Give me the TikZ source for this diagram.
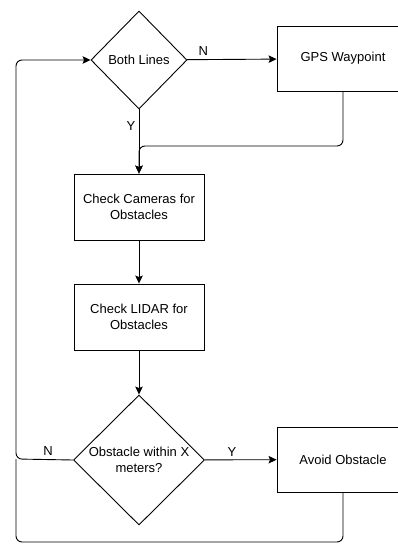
\documentclass[tikz,border=0pt]{standalone}
\usepackage{fontspec}
\setmainfont{Liberation Sans}
\usetikzlibrary{shapes.geometric,arrows.meta}

\begin{document}
\begin{tikzpicture}[x=1pt,y=-1pt,line width=0.9pt,>={Stealth[length=8pt,width=7.5pt,inset=1.5pt]},
    font=\fontsize{13}{15.5}\selectfont,
    stepbox/.style={draw,rectangle,minimum width=130pt,minimum height=66pt,align=center,inner sep=0pt},
    cutbox/.style={stepbox,minimum width=180pt,minimum height=65pt},
    choice/.style={draw,diamond,align=center,inner sep=0pt}]
  \useasboundingbox (0,0) rectangle (398,544);
  \clip (0,0) rectangle (398,544);
  \node[choice,minimum width=96pt,minimum height=98pt] (Both) at (139,60) {Both Lines};
  \node[cutbox] (GPS) at (367,58.5) {GPS Waypoint\hspace*{48pt}};
  \node[stepbox] (Cam) at (139,207) {Check Cameras for\\Obstacles};
  \node[stepbox] (Lidar) at (139,317) {Check LIDAR for\\Obstacles};
  \node[choice,minimum width=131pt,minimum height=130pt] (Obst) at (139,460) {Obstacle within X\\meters?};
  \node[cutbox] (Avoid) at (367,459.5) {Avoid Obstacle\hspace*{48pt}};
  % corners of the loops
  \coordinate (merge) at (139,146);
  \coordinate (loopL) at (16,459);
  \coordinate (loopB) at (16,542);
  \path[->] (Both) edge node[pos=0.18,above] {N} (GPS)
            (Both) edge node[pos=0.26,left] {Y} (Cam);
  \path[->] (Cam) edge (Lidar);
  \path[->] (Lidar) edge (Obst);
  \path[->] (Obst) edge node[pos=0.38,above] {Y} (Avoid);
  \draw[->,rounded corners=6pt] ([xshift=-24pt]GPS.south) |- (merge) -- (Cam.north);
  \draw[->,rounded corners=6pt] (Obst.west) -- node[pos=0.44,above] {N} (loopL) |- (Both.west);
  \draw[rounded corners=6pt] ([xshift=-24pt]Avoid.south) |- (loopB) -- (loopL);
\end{tikzpicture}
\end{document}
